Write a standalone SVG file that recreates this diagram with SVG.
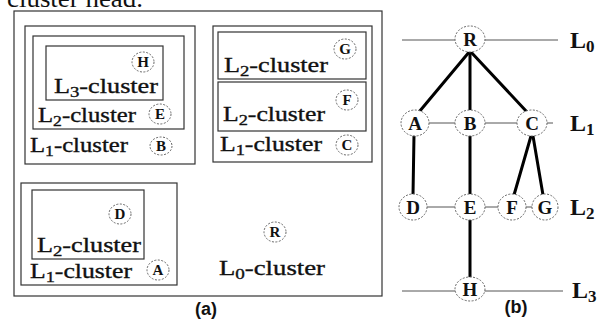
<svg xmlns="http://www.w3.org/2000/svg" width="608" height="320" viewBox="0 0 608 320">
<style>
.box{fill:none;stroke:#333;stroke-width:1.2}
.lbl{font-family:"Liberation Serif","Times New Roman",serif;font-size:21px;fill:#111;stroke:#111;stroke-width:0.35}
.sub{font-size:15px}
.nc{fill:#fff;stroke:#666;stroke-width:1;stroke-dasharray:2 1.5}
.nt{font-family:"Liberation Serif","Times New Roman",serif;font-weight:bold;fill:#111;text-anchor:middle}
.lv{stroke:#555;stroke-width:1}
.tk{stroke:#000;stroke-width:3;stroke-linecap:round}
.big{font-family:"Liberation Serif","Times New Roman",serif;font-weight:bold;font-size:24px;fill:#111}
.cap{font-family:"Liberation Sans",Arial,sans-serif;font-weight:bold;font-size:18px;fill:#111;text-anchor:middle}
</style>
<rect width="608" height="320" fill="#fff"/>
<text x="7" y="7" font-family="Liberation Serif,serif" font-size="25" fill="#111" textLength="136" lengthAdjust="spacingAndGlyphs">cluster head.</text>

<!-- panel (a) -->
<g id="L0-cluster">
<rect class="box" x="14" y="11" width="368" height="285"/>
<ellipse class="nc" cx="275" cy="232" rx="11" ry="10"/>
<text class="nt" x="275" y="237" font-size="15">R</text>
<text class="lbl" x="219" y="275" textLength="106" lengthAdjust="spacingAndGlyphs">L<tspan class="sub" dy="4">0</tspan><tspan dy="-4">-cluster</tspan></text>
</g>
<g id="L1-cluster-B">
<rect class="box" x="25" y="26" width="170" height="138"/>
<ellipse class="nc" cx="161" cy="146" rx="11" ry="9"/>
<text class="nt" x="161" y="151" font-size="15">B</text>
<text class="lbl" x="30" y="152" textLength="98" lengthAdjust="spacingAndGlyphs">L<tspan class="sub" dy="4">1</tspan><tspan dy="-4">-cluster</tspan></text>
</g>
<g id="L2-cluster-E">
<rect class="box" x="33" y="36" width="151" height="93"/>
<ellipse class="nc" cx="160" cy="114" rx="11" ry="10"/>
<text class="nt" x="160" y="119" font-size="15">E</text>
<text class="lbl" x="38" y="122" textLength="98" lengthAdjust="spacingAndGlyphs">L<tspan class="sub" dy="4">2</tspan><tspan dy="-4">-cluster</tspan></text>
</g>
<g id="L3-cluster-H">
<rect class="box" x="46" y="46" width="117" height="54"/>
<ellipse class="nc" cx="143" cy="62" rx="11" ry="10"/>
<text class="nt" x="143" y="67" font-size="15">H</text>
<text class="lbl" x="54" y="93" textLength="104" lengthAdjust="spacingAndGlyphs">L<tspan class="sub" dy="4">3</tspan><tspan dy="-4">-cluster</tspan></text>
</g>
<g id="L1-cluster-C">
<rect class="box" x="213" y="26" width="159" height="136"/>
<ellipse class="nc" cx="347" cy="145" rx="11" ry="10"/>
<text class="nt" x="347" y="150" font-size="15">C</text>
<text class="lbl" x="220" y="151" textLength="102" lengthAdjust="spacingAndGlyphs">L<tspan class="sub" dy="4">1</tspan><tspan dy="-4">-cluster</tspan></text>
</g>
<g id="L2-cluster-G">
<rect class="box" x="218" y="32" width="148" height="47"/>
<ellipse class="nc" cx="345" cy="49" rx="11" ry="10"/>
<text class="nt" x="345" y="54" font-size="15">G</text>
<text class="lbl" x="224" y="72" textLength="104" lengthAdjust="spacingAndGlyphs">L<tspan class="sub" dy="4">2</tspan><tspan dy="-4">-cluster</tspan></text>
</g>
<g id="L2-cluster-F">
<rect class="box" x="218" y="82" width="148" height="49"/>
<ellipse class="nc" cx="347" cy="100" rx="11" ry="10"/>
<text class="nt" x="347" y="105" font-size="15">F</text>
<text class="lbl" x="223" y="121" textLength="102" lengthAdjust="spacingAndGlyphs">L<tspan class="sub" dy="4">2</tspan><tspan dy="-4">-cluster</tspan></text>
</g>
<g id="L1-cluster-A">
<rect class="box" x="21" y="183" width="156" height="102"/>
<ellipse class="nc" cx="158" cy="270" rx="11" ry="10"/>
<text class="nt" x="158" y="275" font-size="15">A</text>
<text class="lbl" x="30" y="278" textLength="102" lengthAdjust="spacingAndGlyphs">L<tspan class="sub" dy="4">1</tspan><tspan dy="-4">-cluster</tspan></text>
</g>
<g id="L2-cluster-D">
<rect class="box" x="32" y="190" width="112" height="69"/>
<ellipse class="nc" cx="120" cy="214" rx="11" ry="10"/>
<text class="nt" x="120" y="219" font-size="15">D</text>
<text class="lbl" x="37" y="252" textLength="104" lengthAdjust="spacingAndGlyphs">L<tspan class="sub" dy="4">2</tspan><tspan dy="-4">-cluster</tspan></text>
</g>
<text class="cap" x="206" y="315">(a)</text>

<!-- panel (b) -->
<g id="connectors">
<line class="lv" x1="402" y1="40" x2="558" y2="40"/>
<line class="lv" x1="415" y1="123" x2="553" y2="123"/>
<line class="lv" x1="413" y1="207" x2="545" y2="207"/>
<line class="lv" x1="402" y1="291" x2="563" y2="291"/>
<line class="tk" x1="470" y1="51" x2="419" y2="112"/>
<line class="tk" x1="470" y1="51" x2="470" y2="112"/>
<line class="tk" x1="470" y1="51" x2="527" y2="112"/>
<line class="tk" x1="414" y1="135" x2="413" y2="195"/>
<line class="tk" x1="470" y1="135" x2="470" y2="195"/>
<line class="tk" x1="531" y1="136" x2="514" y2="195"/>
<line class="tk" x1="533" y1="136" x2="543" y2="195"/>
<line class="tk" x1="470" y1="219" x2="470" y2="278"/>
</g>
<g id="node-R"><ellipse class="nc" cx="470" cy="39" rx="15" ry="13"/><text class="nt" x="470" y="46" font-size="19">R</text></g>
<g id="node-A"><ellipse class="nc" cx="415" cy="123" rx="14" ry="13"/><text class="nt" x="415" y="130" font-size="19">A</text></g>
<g id="node-B"><ellipse class="nc" cx="470" cy="123" rx="15" ry="13"/><text class="nt" x="470" y="130" font-size="19">B</text></g>
<g id="node-C"><ellipse class="nc" cx="532" cy="123" rx="15" ry="13"/><text class="nt" x="532" y="130" font-size="19">C</text></g>
<g id="node-D"><ellipse class="nc" cx="413" cy="207" rx="14" ry="13"/><text class="nt" x="413" y="214" font-size="19">D</text></g>
<g id="node-E"><ellipse class="nc" cx="470" cy="207" rx="15" ry="13"/><text class="nt" x="470" y="214" font-size="19">E</text></g>
<g id="node-F"><ellipse class="nc" cx="512" cy="207" rx="14" ry="13"/><text class="nt" x="512" y="214" font-size="19">F</text></g>
<g id="node-G"><ellipse class="nc" cx="545" cy="207" rx="13" ry="13"/><text class="nt" x="545" y="214" font-size="19">G</text></g>
<g id="node-H"><ellipse class="nc" cx="470" cy="289" rx="15" ry="12"/><text class="nt" x="470" y="296" font-size="19">H</text></g>
<text class="big" x="570" y="48">L<tspan font-size="17" dy="4">0</tspan></text>
<text class="big" x="570" y="131">L<tspan font-size="17" dy="4">1</tspan></text>
<text class="big" x="570" y="215">L<tspan font-size="17" dy="4">2</tspan></text>
<text class="big" x="572" y="298">L<tspan font-size="17" dy="4">3</tspan></text>
<text class="cap" x="516" y="313">(b)</text>
</svg>
